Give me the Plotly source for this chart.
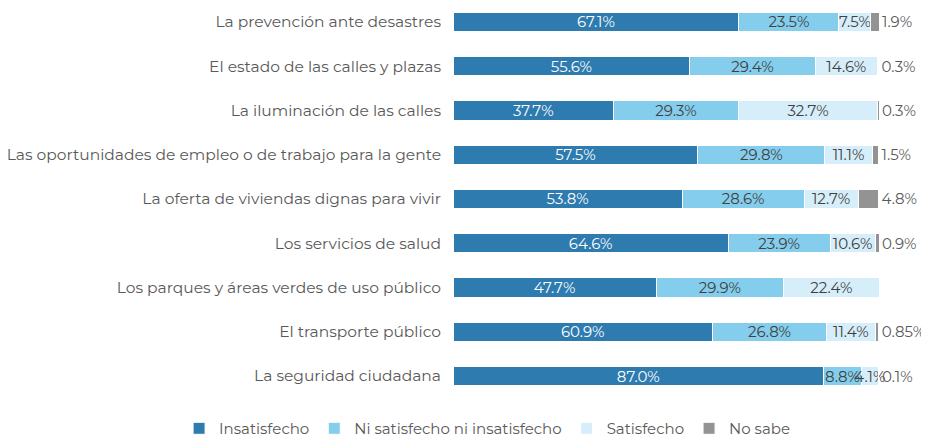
import plotly.graph_objects as go

categories = [
    "La prevención ante desastres",
    "El estado de las calles y plazas",
    "La iluminación de las calles",
    "Las oportunidades de empleo o de trabajo para la gente",
    "La oferta de viviendas dignas para vivir",
    "Los servicios de salud",
    "Los parques y áreas verdes de uso público",
    "El transporte público",
    "La seguridad ciudadana",
]
insatisfecho = [67.1, 55.6, 37.7, 57.5, 53.8, 64.6, 47.7, 60.9, 87.0]
ni_ni = [23.5, 29.4, 29.3, 29.8, 28.6, 23.9, 29.9, 26.8, 8.8]
satisfecho = [7.5, 14.6, 32.7, 11.1, 12.7, 10.6, 22.4, 11.4, 4.1]
no_sabe = [1.9, 0.3, 0.3, 1.5, 4.8, 0.9, None, 0.85, 0.1]
no_sabe_labels = ["1.9%", "0.3%", "0.3%", "1.5%", "4.8%", "0.9%", "", "0.85%", "0.1%"]

series = [
    ("Insatisfecho", insatisfecho, None, "#2E7BAF", "white"),
    ("Ni satisfecho ni insatisfecho", ni_ni, None, "#84CDEC", "#404040"),
    ("Satisfecho", satisfecho, None, "#D6EEF9", "#404040"),
    ("No sabe", no_sabe, no_sabe_labels, "#939393", "#595959"),
]

FONT = "Montserrat, DejaVu Sans, sans-serif"

fig = go.Figure()
for name, vals, labels, color, tcol in series:
    texts = labels if labels is not None else [f"{v:.1f}%" for v in vals]
    fig.add_trace(go.Bar(
        y=categories, x=vals, name=name, orientation="h",
        marker=dict(color=color, line=dict(color="white", width=1)),
        text=texts, texttemplate="%{text}",
        textposition="outside" if name == "No sabe" else "inside",
        insidetextanchor="middle",
        textangle=0,
        textfont=dict(color=tcol, size=15, family=FONT),
        outsidetextfont=dict(color=tcol, size=15, family=FONT),
        constraintext="none",
        cliponaxis=False,
        width=0.43,
    ))

# page body has an 8px margin, so the figure is sized to fit the window
fig.update_layout(
    width=921, height=429,
    barmode="stack",
    margin=dict(l=445, r=50, t=0, b=39, autoexpand=False),
    plot_bgcolor="white", paper_bgcolor="white",
    font=dict(family=FONT, color="#595959", size=15),
    uniformtext=dict(minsize=15, mode="show"),
    xaxis=dict(range=[0, 100], visible=False, fixedrange=True),
    yaxis=dict(range=[8.497, -0.316], showgrid=False, showline=False, ticks="",
               ticklabelstandoff=11, tickfont=dict(size=15.5, color="#595959", family=FONT)),
    legend=dict(orientation="h", x=-0.643, xanchor="left", y=-0.036, yanchor="top",
                itemwidth=30, font=dict(size=15, color="#595959", family=FONT),
                traceorder="normal"),
)

fig.write_html("out.html")
